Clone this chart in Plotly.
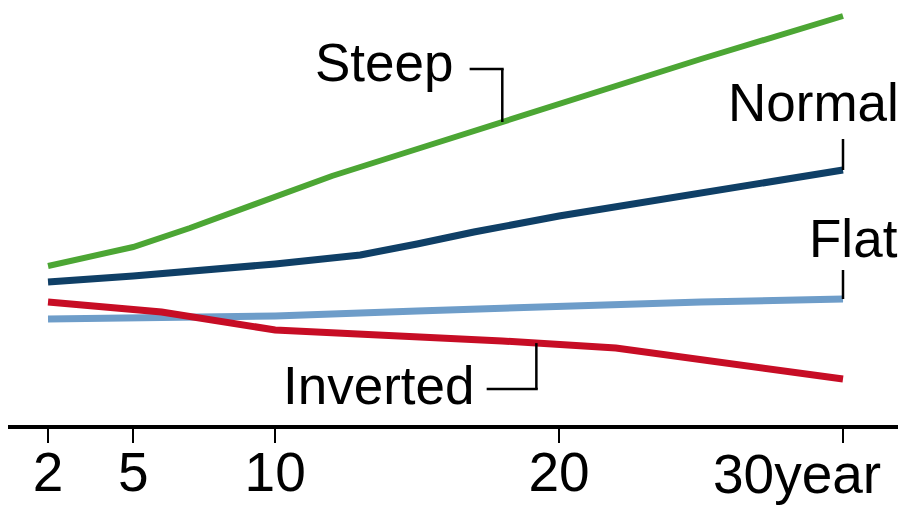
import numpy as np
import plotly.graph_objects as go

# ---- data (maturity in years, yield in %) ----
steep_x = [2, 5, 7, 10, 12, 15, 20, 25, 30]
steep_y = [2.68, 3.06, 3.44, 4.08, 4.48, 5.02, 5.92, 6.82, 7.68]

normal_x = [2, 5, 10, 13, 15, 17, 20, 25, 30]
normal_y = [2.36, 2.48, 2.72, 2.90, 3.12, 3.36, 3.68, 4.14, 4.60]

flat_x = [2, 10, 15, 20, 25, 30]
flat_y = [1.62, 1.68, 1.78, 1.88, 1.96, 2.02]

inverted_x = [2, 6, 10, 14, 18, 22, 26, 30]
inverted_y = [1.96, 1.76, 1.40, 1.30, 1.18, 1.04, 0.74, 0.42]

tick_vals = [2, 5, 10, 20, 30]
tick_text = ["2", "5", "10", "20", ""]
last_tick_label = "30year"

GREEN = "#4ca634"
NAVY = "#0f3f66"
LIGHT = "#6e9dc9"
RED = "#c70d25"
FONT = "Liberation Sans, Arial, sans-serif"

# page body margin is removed in the written page (post_script below)
BODY = 0
W, H = 901, 505
ML, MR, MT, MB = 8, 3, 8, 80
PW, PH = W - ML - MR, H - MT - MB


def px(xpix):
    return (xpix - BODY - ML) / PW


def py(ypix):
    return (MT + PH - (ypix - BODY)) / PH


fig = go.Figure()
for xs, ys, col, w in [
    (steep_x, steep_y, GREEN, 6),
    (normal_x, normal_y, NAVY, 7),
    (flat_x, flat_y, LIGHT, 7),
    (inverted_x, inverted_y, RED, 7),
]:
    fig.add_trace(go.Scatter(x=xs, y=ys, mode="lines",
                             line=dict(color=col, width=w, shape="linear"),
                             showlegend=False, hoverinfo="skip"))

# leader lines, attached to the series through interpolation
lead = dict(color="black", width=2.5)
s_at = float(np.interp(18, steep_x, steep_y))
fig.add_shape(type="line", x0=18, x1=18, y0=s_at, y1=6.62, line=lead)
fig.add_shape(type="line", x0=16.85, x1=18.05, y0=6.62, y1=6.62, line=lead)

fig.add_shape(type="line", x0=normal_x[-1], x1=normal_x[-1],
              y0=normal_y[-1], y1=5.22, line=lead)
fig.add_shape(type="line", x0=flat_x[-1], x1=flat_x[-1],
              y0=flat_y[-1], y1=2.60, line=lead)

i_at = float(np.interp(19.2, inverted_x, inverted_y))
fig.add_shape(type="line", x0=19.2, x1=19.2, y0=i_at, y1=0.22, line=lead)
fig.add_shape(type="line", x0=17.45, x1=19.25, y0=0.22, y1=0.22, line=lead)

lab_font = dict(family=FONT, size=53, color="black")
for text, xpix, ypix, anchor in [
    ("Steep", 313, 63, "left"),
    ("Normal", 901, 102, "right"),
    ("Flat", 900, 238, "right"),
    ("Inverted", 281, 385, "left"),
]:
    fig.add_annotation(xref="paper", yref="paper", x=px(xpix), y=py(ypix),
                       text=text, showarrow=False, xanchor=anchor,
                       yanchor="middle", font=lab_font)

fig.add_annotation(xref="paper", yref="paper", x=px(711), y=py(474),
                   text=last_tick_label, showarrow=False, xanchor="left",
                   yanchor="middle",
                   font=dict(family=FONT, size=55, color="black"))

fig.update_xaxes(range=[0.591, 31.937], showline=True, linewidth=3.5,
                 linecolor="black", ticks="outside", ticklen=14, tickwidth=2.5,
                 tickcolor="black", tickvals=tick_vals, ticktext=tick_text,
                 tickfont=dict(family=FONT, size=55, color="black"),
                 ticklabelstandoff=-18, automargin=False,
                 showgrid=False, zeroline=False)
fig.update_yaxes(range=[-0.5, 7.84], visible=False, showgrid=False,
                 zeroline=False, automargin=False)

fig.update_layout(width=W, height=H,
                  margin=dict(l=ML, r=MR, t=MT, b=MB, pad=0),
                  paper_bgcolor="white", plot_bgcolor="white",
                  font=dict(family=FONT), hovermode=False)

fig.write_html("out.html",
               config={"displayModeBar": False, "staticPlot": True},
               post_script="document.body.style.margin='0px';"
                           "document.body.style.overflow='hidden';")
